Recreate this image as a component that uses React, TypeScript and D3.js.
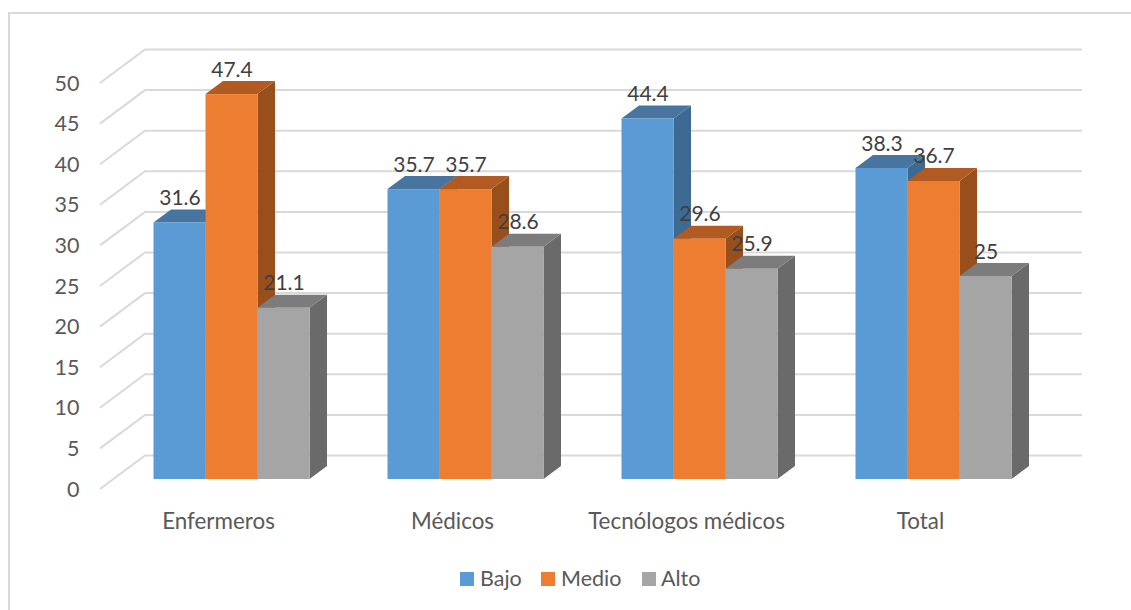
import React from "react";
import * as d3 from "d3";

const categories = ["Enfermeros", "Médicos", "Tecnólogos médicos", "Total"];
const seriesNames = ["Bajo", "Medio", "Alto"];
const bajo = [31.6, 35.7, 44.4, 38.3];
const medio = [47.4, 35.7, 29.6, 36.7];
const alto = [21.1, 28.6, 25.9, 25];
const seriesValues = [bajo, medio, alto];
const yTicks = [0, 5, 10, 15, 20, 25, 30, 35, 40, 45, 50];

const front = ["#5b9bd5", "#ed7d31", "#a5a5a5"];
const top = ["#47759f", "#b15b22", "#7c7c7c"];
const side = ["#3d6a92", "#994f1c", "#6a6a6a"];
const textFont = "Lato, 'Open Sans', sans-serif";

// Bars stand on a plane partway into the chart's floor.
const barDepth = { dx: 17.5, dy: -13 };
const wallDepth = { dx: 45, dy: -33.5 };

const yBar = d3.scaleLinear().domain([0, 50]).range([479, 73]);
const yWall = d3.scaleLinear().domain([0, 50]).range([455.5, 49.5]);
const xGroup = d3.scaleBand<string>().domain(categories).range([36, 972]).paddingInner(0).paddingOuter(0);
const barW = 52;
const barX = (c: number, s: number) => (xGroup(categories[c]) as number) + 117.5 + s * barW;

export default function App() {
  const wallX0 = 145;
  const wallX1 = 1082;
  const legend = [
    { x: 460, tx: 480 },
    { x: 541, tx: 561 },
    { x: 642, tx: 661 },
  ];
  return (
    <svg
      width={1131}
      height={610}
      style={{ position: "absolute", left: 0, top: 0, background: "#fff" }}
      fontFamily={textFont}
    >
      <rect x={9} y={13} width={1140} height={640} fill="#fff" stroke="#d9d9d9" strokeWidth={2} />

      {yTicks.map((t) => (
        <g key={t} stroke="#d9d9d9" strokeWidth={2} fill="none">
          <path
            d={`M${wallX0 - wallDepth.dx},${yWall(t) - wallDepth.dy}L${wallX0},${yWall(t)}L${wallX1},${yWall(t)}`}
          />
        </g>
      ))}

      {yTicks.map((t) => (
        <text key={t} x={79.5} y={yWall(t) + 33} textAnchor="end" dominantBaseline="central" fontSize={21.5} fill="#595959">
          {t}
        </text>
      ))}

      {categories.map((cat, c) => (
        <g key={cat}>
          {seriesNames.map((name, s) => {
            const v = seriesValues[s][c];
            const x = barX(c, s);
            const yTop = yBar(v);
            const y0 = yBar(0);
            const { dx, dy } = barDepth;
            return (
              <g key={name}>
                <path d={`M${x + barW},${yTop}L${x + barW + dx},${yTop + dy}L${x + barW + dx},${y0 + dy}L${x + barW},${y0}Z`} fill={side[s]} />
                <path d={`M${x},${yTop}L${x + dx},${yTop + dy}L${x + barW + dx},${yTop + dy}L${x + barW},${yTop}Z`} fill={top[s]} />
                <rect x={x} y={yTop} width={barW} height={y0 - yTop} fill={front[s]} />
              </g>
            );
          })}
        </g>
      ))}

      {categories.map((cat, c) =>
        seriesNames.map((name, s) => (
          <text
            key={`${cat}-${name}`}
            x={barX(c, s) + barW / 2 + 0.5}
            y={yBar(seriesValues[s][c]) - 26}
            textAnchor="middle"
            dominantBaseline="central"
            fontSize={21}
            fill="#404040"
          >
            {seriesValues[s][c]}
          </text>
        ))
      )}

      {categories.map((cat, c) => (
        <text
          key={cat}
          x={barX(c, 1) + barW / 2 - 13}
          y={520}
          textAnchor="middle"
          dominantBaseline="central"
          fontSize={22.4}
          fill="#595959"
        >
          {cat}
        </text>
      ))}

      {seriesNames.map((name, s) => (
        <g key={name}>
          <rect x={legend[s].x} y={572} width={14} height={14} fill={front[s]} />
          <text x={legend[s].tx} y={578} dominantBaseline="central" fontSize={21.5} fill="#595959">
            {name}
          </text>
        </g>
      ))}
    </svg>
  );
}
